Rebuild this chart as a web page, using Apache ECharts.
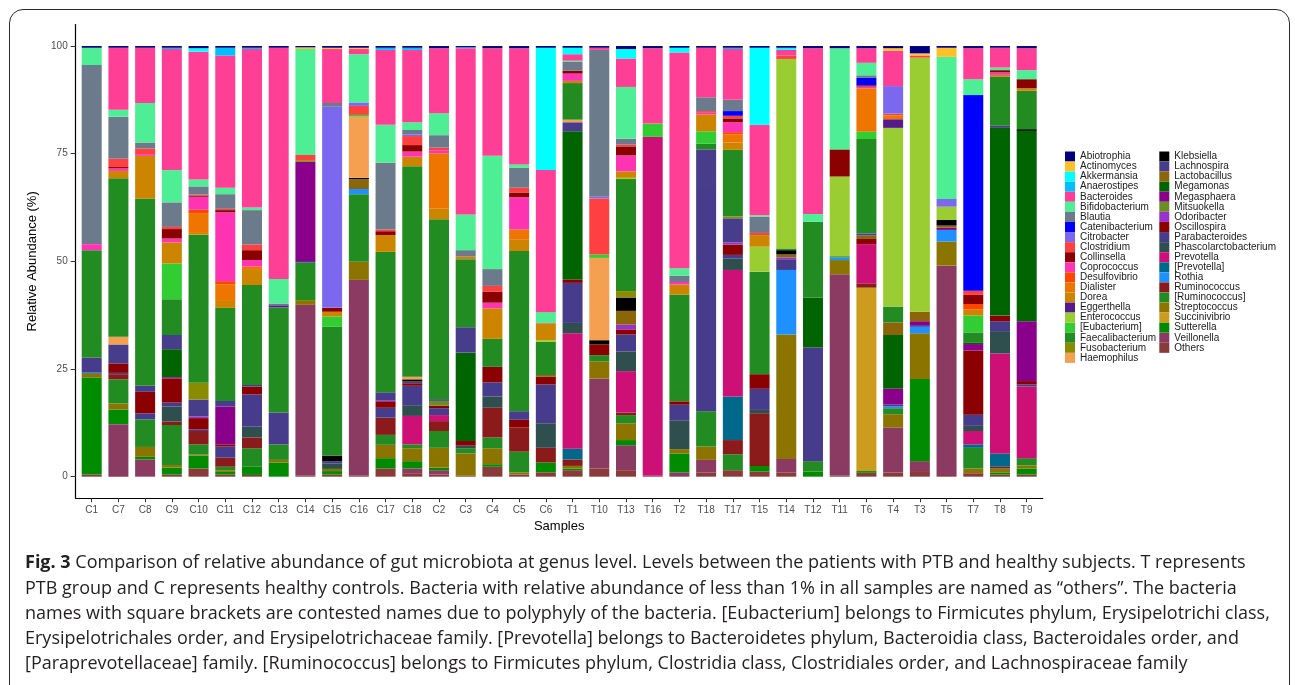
<!DOCTYPE html>
<html><head><meta charset="utf-8">
<script src="https://cdn.jsdelivr.net/npm/echarts@6.0.0/dist/echarts.min.js"></script>
<style>
html,body{margin:0;padding:0;background:#fff;}
#chart{width:1295px;height:685px;position:absolute;left:0;top:0;}
#frame{position:absolute;left:9px;top:9px;width:1279px;height:720px;border:1.5px solid #2b2b2b;border-radius:14px;pointer-events:none;}
</style></head><body>
<div id="chart"></div><div id="frame"></div>
<script>
// ---- categories ----
const samples = ['C1','C7','C8','C9','C10','C11','C12','C13','C14','C15','C16','C17','C18','C2','C3','C4','C5','C6',
  'T1','T10','T13','T16','T2','T18','T17','T15','T14','T12','T11','T6','T4','T3','T5','T7','T8','T9'];
const yTicks = [0, 25, 50, 75, 100];
// legend order (top of stack first)
const genera = ['Abiotrophia','Actinomyces','Akkermansia','Anaerostipes','Bacteroides','Bifidobacterium','Blautia',
  'Catenibacterium','Citrobacter','Clostridium','Collinsella','Coprococcus','Desulfovibrio','Dialister','Dorea',
  'Eggerthella','Enterococcus','[Eubacterium]','Faecalibacterium','Fusobacterium','Haemophilus',
  'Klebsiella','Lachnospira','Lactobacillus','Megamonas','Megasphaera','Mitsuokella','Odoribacter','Oscillospira',
  'Parabacteroides','Phascolarctobacterium','Prevotella','[Prevotella]','Rothia','Ruminococcus','[Ruminococcus]',
  'Streptococcus','Succinivibrio','Sutterella','Veillonella','Others'];

// ---- series values (% per sample, in sample order) ----
const Abiotrophia = [0.4,0.4,0.4,0.4,0.5,0.4, 0.4,0.4,0.3,0.4,0.4,0.4, 0.4,0.5,0.3,0.5,0.5,0.4, 0.4,0.4,0.7,0.5,0.4,0.4, 0.4,0.4,0.4,0.5,0.5,0.5, 0.5,1.7,0.4,0.5,0.4,0.5];
const Actinomyces = [0,0,0,0,0,0, 0,0,0.4,0.3,0.3,0, 0,0,0,0,0,0, 0,0,0,0,0,0, 0,0,0,0,0,0, 0.6,0.5,2.1,0,0,0];
const Akkermansia = [0,0,0,0,0.8,0, 0,0,0,0,0,0, 0,0,0,0,0,28.4, 1.5,0,2.2,0,1.1,0, 0,17.9,0.5,0,0,0, 0,0,0,0,0,0];
const Anaerostipes = [0,0,0,0.3,0,1.8, 0.3,0,0,0,0,0.5, 0.5,0,0.2,0,0,0, 0,0,0,0,0,0, 0.3,0,0,0,0,0, 0,0,0,0,0,0];
const Bacteroides = [0,14.4,12.8,28.1,29.7,30.7, 36.8,53.7,0,12.5,1.2,17.4, 16.8,15.1,38.6,25.0,27.0,33.0, 1.5,0.5,6.6,17.5,50.1,11.5, 11.8,21.0,1.3,38.5,0,3.4, 8.2,0,0,7.2,4.6,5.1];
const Bifidobacterium = [4.0,1.6,9.2,7.5,1.6,1.5, 0.6,5.7,24.6,0,11.2,8.8, 1.8,5.1,8.3,26.3,0.8,2.4, 0.3,0,12.0,0,1.7,0, 0,0.3,0,1.8,23.5,2.9, 0,0,33.0,3.7,0.6,2.1];
const Blautia = [41.6,9.8,1.4,5.7,1.9,3.4, 8.0,0.4,0,0.9,0,15.5, 1.0,2.9,1.5,3.9,4.6,0.2, 2.0,34.1,1.4,0,1.5,3.2, 2.6,3.8,0,0,0,0.6, 0,0,0,0,0,0];
const Catenibacterium = [0,0,0,0,0,0, 0,0,0,0,0,0, 0,0,0,0,0,0, 0,0,0,0,0,0, 1.1,0,0,0,0,1.7, 0,0,0,45.4,0,0];
const Citrobacter = [0,0,0,0,0,0, 0,0,0,46.7,0.8,0, 0.4,0,0,0,0,0, 0,0.4,0,0,0,0, 0,0,0,0,0,0, 6.4,0,1.8,0,0,0];
const Clostridium = [0,1.9,1.3,0.5,0.2,0.3, 1.3,0,1.2,0,2.1,0.4, 2.1,0.6,0,1.3,1.1,0, 0,13.0,0.4,0,0,0.4, 0.6,0.5,0.8,0,0,0, 0.4,0.5,0,1.0,0,0];
const Collinsella = [0,0.3,0,2.2,0.3,0.5, 2.3,0,0,0.9,0,0.9, 1.5,0,0,2.6,1.1,0, 0.7,0,2.1,0,0,0, 0.9,0,0,0,6.3,0.3, 0,0,0,2.1,0.5,2.1];
const Coprococcus = [1.4,0.6,0.4,0.9,3.0,16.0, 1.5,0,0,0,0,0, 1.2,0.7,0,1.3,7.5,0, 1.7,0,3.7,0,0.6,0.4, 2.3,0,0,0,0,0.4, 0,0,0,0,0.6,0];
const Desulfovibrio = [0,0,0,0,0.8,0.7, 0,0,0,0,0,0, 0,0,0,0,0,0, 0,0,0,0,0,0, 0.5,0,0,0,0,0, 0,0,0,1.3,0,0];
const Dialister = [0,0,0,0,4.6,3.9, 0.8,0,0,0,0,0, 0,12.8,0,0,2.4,0, 0,0,0,0,0,0, 1.9,0,0,0,0,10.1, 0.9,0,0,0,0,0];
const Dorea = [0,1.7,9.9,4.9,0.4,1.6, 3.5,0,0,1.1,0,3.9, 2.2,2.5,0.6,7.1,2.6,3.9, 0.5,0,1.5,0,2.3,3.9, 1.7,2.7,0,0,0,0, 0,0,0,1.4,0.4,0.6];
const Eggerthella = [0,0,0,0,0,0, 0,0.5,0,0,0,0, 0,0,0,0,0,0, 0,0,0,0,0,0, 0,0,0,0,0,0, 2.0,0,0,0,0,0];
const Enterococcus = [0,0,0,0,0,0, 0,0,0,0,0,0, 0,0,0,0,0,0.4, 0,0,0.3,0,0,0, 0,5.8,44.0,0,18.5,0, 41.5,59.0,3.1,0,0,0];
const Eubacterium_br = [0,0,0,8.3,0,0, 0,0,0,2.4,0.4,0, 0,0,0,0,0,0, 0,0.8,0,3.1,0,2.9, 0,0,0,0,0,1.7, 0,0,0,3.9,0,0];
const Faecalibacterium = [25.0,36.8,43.5,8.3,34.4,21.6, 23.2,24.4,0,29.9,0,32.6, 48.9,41.8,15.8,6.5,37.2,7.7, 8.5,0,26.0,0,24.8,1.3, 15.5,23.8,0.4,17.6,0.3,21.9, 3.7,0,0,2.3,11.4,8.9];
const Fusobacterium = [0,0,0,0,3.9,0, 0,0,0.4,0,0,0, 0,0,0,0,0,0, 0,0,1.5,0,0,0, 0.4,0,0,0,0,0, 0,0,0,0,0,0];
const Haemophilus = [0,1.8,0,0,0,0, 0,0,0,0,14.2,0, 0.6,0,0,0,0,0, 0.6,19.1,0,0,0,0, 0,0,0,0,0,0, 0,0,0,0,0,0];
const Klebsiella = [0,0,0,0,0,0, 0,0,0,1.3,0.3,0, 0.5,0,0,0,0,0, 0,1.0,3.1,0,0,0, 0,0,1.0,0,0,0, 0,0,1.3,0,0,0.4];
const Lachnospira = [0,4.4,1.4,3.3,3.9,1.3, 0.4,0,0,0,0,1.9, 0.4,0.4,5.9,0,2.0,0, 2.1,0,0,0,0,9.2, 5.6,0,0,0,0,0.5, 0,0,0,0,0.5,0];
const Lactobacillus = [0,0,0,0,0,0, 0,0,0,0,2.3,0, 0,0,0,0,0,0.4, 0,0,3.2,0,0,0, 0,0,0.7,0,0,0.8, 2.9,2.2,0.5,0,0,0];
const Megamonas = [0,0,0,6.5,0,0, 0,0,0,0,0,0, 0,0,20.5,0,0,0, 34.4,0,0,0,0,0, 0,0,0,11.6,0,0, 12.5,0,0,0.4,43.6,44.2];
const Megasphaera = [0,0,0,0.3,0,8.8, 0,0,23.0,0,0,0.3, 0,0,0,0,0,0, 0,0,0,0,0,0, 0,0,0,0,0,0, 3.6,0.9,0.5,1.5,0,13.9];
const Mitsuokella = [0,0,0,0,0,0, 0,0,0,0,0,0, 0,1.1,0,0,0,0, 0,0,0,0,0,0, 0,0,0,0,0,0, 0,0,0,0,0,0];
const Odoribacter = [0,0,0,0,0.4,0, 0,0,0,0,0,0, 0,0,0,0,0,0, 0,0,1.1,0,0,0, 0.5,0,0.4,0,0,0, 0,0,0,0,0,0];
const Oscillospira = [0,2.2,5.0,5.6,2.6,0.5, 1.8,0,0,0,0,1.4, 0.6,0.6,1.1,3.6,1.8,1.8, 0.8,2.5,1.2,0,0.8,0, 2.4,3.4,0,0,0,1.2, 0,0,0,14.9,1.3,0.8];
const Parabacteroides = [3.4,0.3,1.4,0.9,0.4,2.6, 7.5,7.4,0.4,0.5,0,2.3, 4.5,1.6,0,3.3,0,9.0, 9.3,0,3.9,0,3.6,51.6, 0.8,4.9,2.5,26.4,0,0, 0.5,0.4,0,2.6,2.3,0.5];
const Phascolarctobacterium = [0,0,0,3.5,0,0, 2.5,0,0,1.3,0,0, 2.5,0,0.6,2.6,0,5.7, 2.4,0,4.6,0,6.7,0, 2.7,0.8,0,0,0,0, 0,0,0,1.2,5.2,0];
const Prevotella = [0,0,0,0,0,0, 0,0,0,0,0,0, 6.6,1.4,0,0,0,0, 26.8,0,9.6,78.7,0,0, 29.4,0,0,0,0,9.1, 0,0,0,3.1,23.2,16.6];
const Prevotella_br = [0.3,0,0,0,0,0, 0,0,0,0,0,0, 0,0,0,0,0,0, 2.5,0,0,0,0,0, 10.1,0,0,0,0,0, 0,0,0,0.8,3.1,0];
const Rothia = [0,0,0,0,0,0, 0,0,0,0,1.2,0, 0,0,0,0,0,0, 0,0,0,0,0,0, 0,0,15.0,0,0.6,0, 0.4,1.5,2.7,0,0,0];
const Ruminococcus = [0,1.2,0,0.8,3.1,2.1, 2.5,0,0,0,0,4.0, 0,2.3,0,6.9,5.6,3.4, 1.5,0,0.6,0,0,0, 3.3,12.2,0,0,0,1.0, 0,0,0,0,0.4,0];
const Ruminococcus_br = [0,5.6,6.4,9.3,2.3,0.8, 4.3,3.6,8.7,0,15.7,2.3, 0.9,3.9,1.2,2.5,4.8,0, 0,1.4,1.9,0,0,8.2, 3.7,0,0,2.4,0,0, 1.4,0,0,4.8,0,1.7];
const Streptococcus = [0.9,1.4,2.3,0.6,0.3,0.4, 0,0.6,1.1,0.5,4.2,3.1, 3.0,4.6,5.2,3.7,0.5,0, 0.6,4.0,3.9,0,1.0,3.1, 0,0,28.9,0,3.3,0, 3.1,10.6,5.6,1.1,0.9,0.7];
const Succinivibrio = [0,0,0,0,0,0, 0,0,0,0,0,0, 0,0,0,0,0,0, 0,0,0,0,0,0, 0,0,0,0,0,42.6, 0,0,0,0,0,0];
const Sutterella = [22.5,3.4,0.6,1.6,3.0,0.6, 1.9,3.3,0,0.8,0,2.4, 1.7,0.6,0,0.6,0,2.3, 0.4,0,1.2,0,4.4,0, 0,1.3,0,1.2,0,0.4, 0,19.1,0,0,0.5,1.4];
const Veillonella = [0,12.2,4.0,0,0,0, 0,0,39.7,0,45.5,0, 1.1,1.0,0,0,0,0, 0,20.9,5.8,0,1.0,2.9, 0,0,3.1,0,46.8,0, 10.4,2.3,48.6,0,0,0];
const Others = [0.5,0,0,0.5,1.9,0.5, 0.4,0,0.2,0.5,0.2,1.9, 0.8,0.5,0.2,2.3,0.5,1.0, 1.5,1.9,1.5,0.2,0,1.0, 1.5,1.2,1.0,0,0.2,0.9, 1.0,1.3,0.4,0.8,0.5,0.5];

const values = {
  'Abiotrophia':Abiotrophia,'Actinomyces':Actinomyces,'Akkermansia':Akkermansia,'Anaerostipes':Anaerostipes,
  'Bacteroides':Bacteroides,'Bifidobacterium':Bifidobacterium,'Blautia':Blautia,'Catenibacterium':Catenibacterium,
  'Citrobacter':Citrobacter,'Clostridium':Clostridium,'Collinsella':Collinsella,'Coprococcus':Coprococcus,
  'Desulfovibrio':Desulfovibrio,'Dialister':Dialister,'Dorea':Dorea,'Eggerthella':Eggerthella,'Enterococcus':Enterococcus,
  '[Eubacterium]':Eubacterium_br,'Faecalibacterium':Faecalibacterium,'Fusobacterium':Fusobacterium,'Haemophilus':Haemophilus,
  'Klebsiella':Klebsiella,'Lachnospira':Lachnospira,'Lactobacillus':Lactobacillus,'Megamonas':Megamonas,
  'Megasphaera':Megasphaera,'Mitsuokella':Mitsuokella,'Odoribacter':Odoribacter,'Oscillospira':Oscillospira,
  'Parabacteroides':Parabacteroides,'Phascolarctobacterium':Phascolarctobacterium,'Prevotella':Prevotella,
  '[Prevotella]':Prevotella_br,'Rothia':Rothia,'Ruminococcus':Ruminococcus,'[Ruminococcus]':Ruminococcus_br,
  'Streptococcus':Streptococcus,'Succinivibrio':Succinivibrio,'Sutterella':Sutterella,'Veillonella':Veillonella,'Others':Others
};

// ---- styles ----
const colors = {
  'Abiotrophia':'#00007F','Actinomyces':'#FFC125','Akkermansia':'#00FFFF','Anaerostipes':'#00BFFF','Bacteroides':'#FF3E96',
  'Bifidobacterium':'#4EEE94','Blautia':'#6C7B8B','Catenibacterium':'#0000FF','Citrobacter':'#7B68EE','Clostridium':'#FF4040',
  'Collinsella':'#8B0000','Coprococcus':'#FF34B3','Desulfovibrio':'#FF4500','Dialister':'#EE7600','Dorea':'#CD8500',
  'Eggerthella':'#551A8B','Enterococcus':'#9ACD32','[Eubacterium]':'#32CD32','Faecalibacterium':'#228B22','Fusobacterium':'#8B8B00',
  'Haemophilus':'#F4A050','Klebsiella':'#000000','Lachnospira':'#483D8B','Lactobacillus':'#8B6508','Megamonas':'#006400',
  'Megasphaera':'#8B008B','Mitsuokella':'#6B8E23','Odoribacter':'#9932CC','Oscillospira':'#8B0000','Parabacteroides':'#473C8B',
  'Phascolarctobacterium':'#2F4F4F','Prevotella':'#CD1076','[Prevotella]':'#00688B','Rothia':'#1E90FF','Ruminococcus':'#8B1A1A',
  '[Ruminococcus]':'#228B22','Streptococcus':'#8B7500','Succinivibrio':'#CD9B1D','Sutterella':'#008B00','Veillonella':'#8B3A62',
  'Others':'#8B3A3A'
};

const captionLines = [
  '{b|Fig. 3} Comparison of relative abundance of gut microbiota at genus level. Levels between the patients with PTB and healthy subjects. T represents',
  'PTB group and C represents healthy controls. Bacteria with relative abundance of less than 1% in all samples are named as \u201cothers\u201d. The bacteria',
  'names with square brackets are contested names due to polyphyly of the bacteria. [Eubacterium] belongs to Firmicutes phylum, Erysipelotrichi class,',
  'Erysipelotrichales order, and Erysipelotrichaceae family. [Prevotella] belongs to Bacteroidetes phylum, Bacteroidia class, Bacteroidales order, and',
  '[Paraprevotellaceae] family. [Ruminococcus] belongs to Firmicutes phylum, Clostridia class, Clostridiales order, and Lachnospiraceae family'
];

const totals = samples.map((s, i) => genera.reduce((a, g) => a + values[g][i], 0));
const stackOrder = genera.slice().reverse(); // bottom of stack first
const idx = samples.map((s, i) => i);
const FONT = '"Liberation Sans", Arial, Helvetica, sans-serif';

const series = stackOrder.map(g => ({
  name: g, type: 'bar', stack: 'all', barWidth: 20,
  xAxisIndex: 1, yAxisIndex: 1,
  itemStyle: { color: colors[g] },
  emphasis: { disabled: true },
  data: values[g].map((v, i) => v * 100 / totals[i])
}));

const legendBase = {
  orient: 'vertical', itemWidth: 10, itemHeight: 10, itemGap: 0.07, padding: 0, icon: 'rect',
  textStyle: { fontSize: 10, lineHeight: 10, color: '#1a1a1a', fontFamily: FONT }
};

// axis frame grid (ggplot expanded range) and bar grid (one band per sample)
const TOP = 24.5, BOTTOM = 186.8;
const chart = echarts.init(document.getElementById('chart'), null, { renderer: 'canvas' });
chart.setOption({
  animation: false,
  backgroundColor: 'transparent',
  title: {
    text: captionLines.join('\n'), left: 25, top: 550.5, padding: 0,
    textStyle: {
      fontFamily: '"Open Sans", sans-serif', fontSize: 18, fontWeight: 'normal', color: '#231f20', lineHeight: 25.3,
      rich: { b: { fontFamily: '"Open Sans", sans-serif', fontSize: 18, fontWeight: 'bold', color: '#231f20', lineHeight: 25.3 } }
    }
  },
  grid: [
    { left: 75.7, right: 252.3, top: TOP, bottom: BOTTOM, containLabel: false },
    { left: 78.34, right: 254.94, top: TOP, bottom: BOTTOM, containLabel: false }
  ],
  legend: [
    Object.assign({ data: genera.slice(0, 21), left: 1065, top: 151.5 }, legendBase),
    Object.assign({ data: genera.slice(21), left: 1159.3, top: 151.5 }, legendBase)
  ],
  xAxis: [{
    gridIndex: 0, type: 'value', min: -0.6, max: 35.6,
    name: 'Samples', nameLocation: 'middle', nameGap: 21,
    nameTextStyle: { fontSize: 13, color: '#000', fontFamily: FONT },
    axisLine: { show: true, onZero: false, lineStyle: { color: '#000', width: 1.2 } },
    axisTick: { show: true, length: 4, customValues: idx, lineStyle: { color: '#333', width: 1 } },
    axisLabel: { customValues: idx, formatter: v => samples[Math.round(v)], fontSize: 10, color: '#4d4d4d', margin: 7, fontFamily: FONT },
    splitLine: { show: false }
  }, {
    gridIndex: 1, type: 'category', data: samples, show: false
  }],
  yAxis: [{
    gridIndex: 0, type: 'value', min: -5, max: 105,
    name: 'Relative Abundance (%)', nameLocation: 'middle', nameGap: 37, nameRotate: 90,
    nameTextStyle: { fontSize: 13, color: '#000', fontFamily: FONT },
    axisLine: { show: true, onZero: false, lineStyle: { color: '#000', width: 1.2 } },
    axisTick: { show: true, length: 5, customValues: yTicks, lineStyle: { color: '#333', width: 1 } },
    axisLabel: { customValues: yTicks, fontSize: 10, color: '#4d4d4d', margin: 8, fontFamily: FONT },
    splitLine: { show: false }
  }, {
    gridIndex: 1, type: 'value', min: -5, max: 105, show: false, splitLine: { show: false }
  }],
  series: series
});
</script>
</body></html>
